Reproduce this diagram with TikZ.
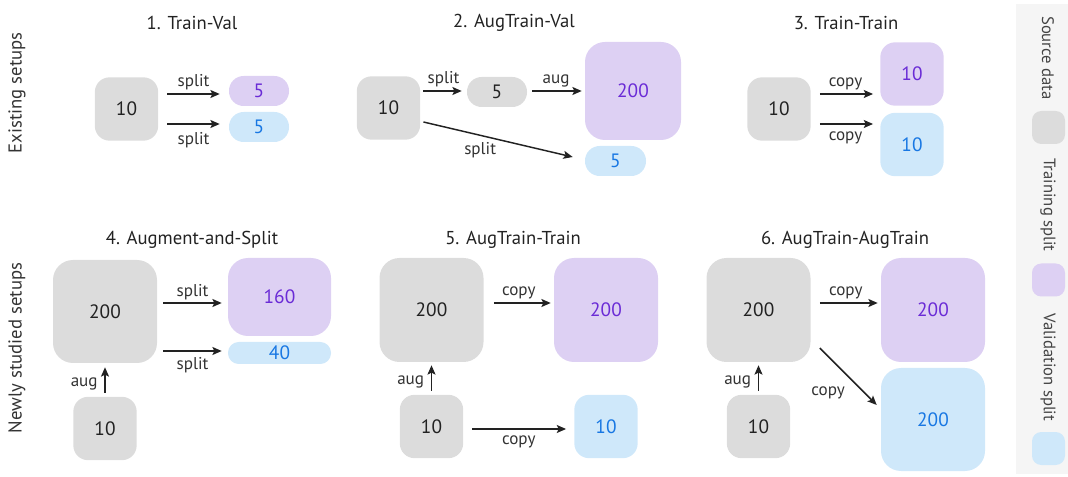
\documentclass[tikz,border=0pt]{standalone}
\usepackage{fontspec}
\setmainfont{PT Sans}
\usetikzlibrary{arrows.meta}
\definecolor{srcgray}{HTML}{DCDCDC}
\definecolor{trnfill}{HTML}{DDD0F3}
\definecolor{valfill}{HTML}{CFE8FA}
\definecolor{trntext}{HTML}{6A2BD6}
\definecolor{valtext}{HTML}{1877E3}
\definecolor{txtc}{HTML}{222222}
\definecolor{lblc}{HTML}{333333}
\definecolor{legbg}{HTML}{F5F5F5}
\definecolor{legtxt}{HTML}{444444}
\newcommand\numfnt{\fontsize{14.5}{16}\selectfont}
\newcommand\ttlfnt{\fontsize{14}{16}\selectfont}
\newcommand\lblfnt{\fontsize{12.8}{14}\selectfont}
\newcommand\legfnt{\fontsize{12.5}{14}\selectfont}
\begin{document}
\begin{tikzpicture}[x=0.75pt,y=-0.75pt,
  box/.style={rectangle, inner sep=0pt, text=txtc, font=\numfnt},
  src/.style={box, fill=srcgray},
  trn/.style={box, fill=trnfill, text=trntext},
  val/.style={box, fill=valfill, text=valtext},
  sq/.style={minimum width=47.5pt, minimum height=47.5pt, rounded corners=11pt},
  pill/.style={minimum width=45pt, minimum height=22.5pt, rounded corners=11pt},
  big/.style={minimum width=78pt, minimum height=78pt, rounded corners=15pt},
  arr/.style={-{Stealth[length=7pt,width=6pt,inset=1.5pt]}, line width=1.1pt, draw=txtc},
  lbl/.style={font=\lblfnt, text=lblc, inner sep=2pt},
  ttl/.style={font=\ttlfnt, text=txtc, inner sep=0pt},
  rowl/.style={font=\ttlfnt, text=lblc, inner sep=0pt, rotate=90},
  legt/.style={font=\legfnt, text=legtxt, inner sep=0pt, rotate=-90},
  legbox/.style={minimum width=24.75pt, minimum height=24.75pt, rounded corners=7pt}
]
\useasboundingbox (0,0) rectangle (1068,477);

% legend background
\fill[legbg] (1016,4) rectangle (1068,474);

% row labels
\node[rowl] (r1) at (17,93) {Existing setups};
\node[rowl] (r2) at (17,348) {Newly studied setups};

% titles
\node[ttl] (h1) at (192,23) {1. Train-Val};
\node[ttl] (h2) at (514,23) {2. AugTrain-Val};
\node[ttl] (h3) at (846,23) {3. Train-Train};
\node[ttl] (h4) at (192,240) {4. Augment-and-Split};
\node[ttl] (h5) at (513,240) {5. AugTrain-Train};
\node[ttl] (h6) at (845,240) {6. AugTrain-AugTrain};

% Panel 1
\node[src,sq] (s1) at (126.5,109) {10};
\node[trn,pill] (t1) at (259,91) {5};
\node[val,pill] (v1) at (259,127) {5};
\draw[arr, shorten <=6.75pt, shorten >=6.75pt] ([yshift=11.25pt]s1.east) -- ([yshift=11.25pt]s1.east -| t1.west) node[lbl,midway,above=0.5pt] {split};
\draw[arr, shorten <=6.75pt, shorten >=6.75pt] ([yshift=-11.25pt]s1.east) -- ([yshift=-11.25pt]s1.east -| v1.west) node[lbl,midway,below=3.5pt] {split};

% Panel 2
\node[src,sq] (s2) at (388.5,108) {10};
\node[src,pill] (g2) at (497,92) {5};
\node[trn,minimum width=72pt,minimum height=73.5pt,rounded corners=15pt] (t2) at (633,91) {200};
\node[val,pill,minimum width=45.75pt] (v2) at (615.5,161) {5};
\draw[arr, shorten <=2.25pt, shorten >=3.75pt] ([yshift=12.75pt]s2.east) -- ([yshift=12.75pt]s2.east -| g2.west) node[lbl,midway,above=0.5pt] {split};
\draw[arr, shorten <=3.75pt, shorten >=2.25pt] ([yshift=0.75pt]g2.east) -- ([yshift=0.75pt]g2.east -| t2.west) node[lbl,midway,above=0.5pt] {aug};
\draw[arr] ([xshift=2.25pt,yshift=-10.5pt]s2.east) -- ([xshift=-9pt,yshift=3pt]v2.west) node[lbl,pos=0.38,below=3pt] {split};

% Panel 3
\node[src,sq] (s3) at (779,109) {10};
\node[trn,sq] (t3) at (912,74) {10};
\node[val,sq] (v3) at (912,144.5) {10};
\draw[arr, shorten <=6.75pt, shorten >=5.25pt] ([yshift=11.25pt]s3.east) -- ([yshift=11.25pt]s3.east -| t3.west) node[lbl,midway,above=0.5pt] {copy};
\draw[arr, shorten <=6.75pt, shorten >=5.25pt] ([yshift=-11.25pt]s3.east) -- ([yshift=-11.25pt]s3.east -| v3.west) node[lbl,midway,below=3.5pt] {copy};

% Panel 4
\node[src,big,minimum height=77.25pt] (s4) at (105,311.5) {200};
\node[src,sq] (a4) at (105,428.5) {10};
\node[trn,minimum width=77.25pt,minimum height=58.5pt,rounded corners=15pt] (t4) at (279.5,297) {160};
\node[val,minimum width=77.25pt,minimum height=16.5pt,rounded corners=8pt] (v4) at (279.5,353) {40};
\draw[arr, shorten <=3pt, shorten >=3pt] (a4.north) -- (s4.south) node[lbl,midway,left=3pt,yshift=-3pt] {aug};
\draw[arr, shorten <=4.5pt, shorten >=4.5pt] ([yshift=6.375pt]s4.east) -- ([yshift=6.375pt]s4.east -| t4.west) node[lbl,midway,above=0pt] {split};
\draw[arr, shorten <=4.5pt, shorten >=4.5pt] ([yshift=-29.625pt]s4.east) -- ([yshift=-29.625pt]s4.east -| v4.west) node[lbl,midway,below=2.5pt] {split};

% Panel 5
\node[src,big] (s5) at (431.5,310) {200};
\node[src,sq] (a5) at (431.5,426.5) {10};
\node[trn,big] (t5) at (606,310) {200};
\node[val,sq] (v5) at (606,426.5) {10};
\draw[arr, shorten <=3pt, shorten >=2.25pt] (a5.north) -- (s5.south) node[lbl,midway,left=3pt,yshift=-3pt] {aug};
\draw[arr, shorten <=7.5pt, shorten >=2.25pt] ([yshift=5.25pt]s5.east) -- ([yshift=5.25pt]s5.east -| t5.west) node[lbl,midway,above=0.5pt] {copy};
\draw[arr, shorten <=6.75pt, shorten >=6pt] ([yshift=-1.875pt]a5.east) -- ([yshift=-1.875pt]a5.east -| v5.west) node[lbl,midway,below=2.5pt] {copy};

% Panel 6
\node[src,big] (s6) at (758.5,310) {200};
\node[src,sq] (a6) at (758.5,426.5) {10};
\node[trn,big] (t6) at (933,310) {200};
\node[val,big,minimum height=77.25pt] (v6) at (933,419.5) {200};
\draw[arr, shorten <=3pt, shorten >=2.25pt] (a6.north) -- (s6.south) node[lbl,midway,left=3pt,yshift=-3pt] {aug};
\draw[arr, shorten <=6.75pt, shorten >=2.25pt] ([yshift=5.25pt]s6.east) -- ([yshift=5.25pt]s6.east -| t6.west) node[lbl,midway,above=0.5pt] {copy};
\draw[arr] ([xshift=6.75pt,yshift=-28.5pt]s6.east) -- ([xshift=-3pt,yshift=10.875pt]v6.west) node[lbl,midway,below left,yshift=-5pt] {copy};

% Legend
\node[legt] (k1t) at (1048,58) {Source data};
\node[src,legbox] (k1) at (1048.5,127.5) {};
\node[legt] (k2t) at (1048,205) {Training split};
\node[trn,legbox] (k2) at (1048.5,280) {};
\node[legt] (k3t) at (1048,367.5) {Validation split};
\node[val,legbox] (k3) at (1048.5,448.5) {};
\end{tikzpicture}
\end{document}
